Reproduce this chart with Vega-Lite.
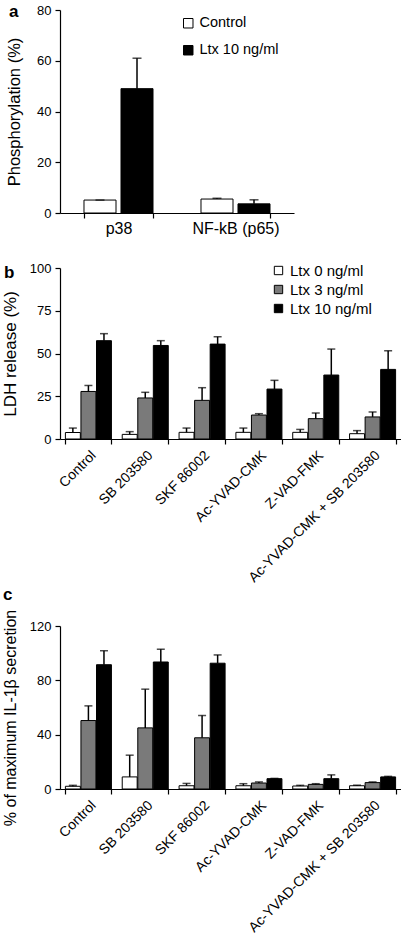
{
  "$schema": "https://vega.github.io/schema/vega-lite/v6.json",
  "padding": {"left": 1, "top": 2, "right": 0, "bottom": 0},
  "config": {
    "font": "Liberation Sans",
    "view": {"stroke": null},
    "axis": {"domainColor": "black", "tickColor": "black", "labelColor": "black", "titleColor": "black", "grid": false, "labelFontSize": 13, "titleFontSize": 16.5, "titleFontWeight": "normal", "tickSize": 5, "labelPadding": 4, "domainWidth": 1.2, "tickWidth": 1.2},
    "legend": {"labelFontSize": 15, "labelColor": "black", "symbolType": "square", "symbolStrokeColor": "black", "symbolStrokeWidth": 1, "labelOffset": 4},
    "title": {"fontSize": 17, "fontWeight": "bold", "color": "black", "anchor": "start", "frame": "group"}
  },
  "datasets": {
    "a": [
      {"cat": "p38", "grp": "Control", "value": 5.1, "upper": 5.1},
      {"cat": "p38", "grp": "Ltx 10 ng/ml", "value": 49, "upper": 61},
      {"cat": "NF-kB (p65)", "grp": "Control", "value": 5.5, "upper": 5.8},
      {"cat": "NF-kB (p65)", "grp": "Ltx 10 ng/ml", "value": 3.6, "upper": 5.2}
    ],
    "b": [
      {"cat": "Control", "grp": "Ltx 0 ng/ml", "value": 3.8, "upper": 6.4},
      {"cat": "Control", "grp": "Ltx 3 ng/ml", "value": 27.8, "upper": 31.3},
      {"cat": "Control", "grp": "Ltx 10 ng/ml", "value": 57.5, "upper": 61.6},
      {"cat": "SB 203580", "grp": "Ltx 0 ng/ml", "value": 2.7, "upper": 4.3},
      {"cat": "SB 203580", "grp": "Ltx 3 ng/ml", "value": 24, "upper": 27.3},
      {"cat": "SB 203580", "grp": "Ltx 10 ng/ml", "value": 54.7, "upper": 57.5},
      {"cat": "SKF 86002", "grp": "Ltx 0 ng/ml", "value": 3.9, "upper": 6.4},
      {"cat": "SKF 86002", "grp": "Ltx 3 ng/ml", "value": 22.6, "upper": 30},
      {"cat": "SKF 86002", "grp": "Ltx 10 ng/ml", "value": 55.5, "upper": 59.8},
      {"cat": "Ac-YVAD-CMK", "grp": "Ltx 0 ng/ml", "value": 3.9, "upper": 6.4},
      {"cat": "Ac-YVAD-CMK", "grp": "Ltx 3 ng/ml", "value": 14, "upper": 14.8},
      {"cat": "Ac-YVAD-CMK", "grp": "Ltx 10 ng/ml", "value": 29.2, "upper": 34.3},
      {"cat": "Z-VAD-FMK", "grp": "Ltx 0 ng/ml", "value": 3.9, "upper": 5.6},
      {"cat": "Z-VAD-FMK", "grp": "Ltx 3 ng/ml", "value": 11.9, "upper": 15.2},
      {"cat": "Z-VAD-FMK", "grp": "Ltx 10 ng/ml", "value": 37.4, "upper": 52.6},
      {"cat": "Ac-YVAD-CMK + SB 203580", "grp": "Ltx 0 ng/ml", "value": 3.1, "upper": 4.9},
      {"cat": "Ac-YVAD-CMK + SB 203580", "grp": "Ltx 3 ng/ml", "value": 12.9, "upper": 15.8},
      {"cat": "Ac-YVAD-CMK + SB 203580", "grp": "Ltx 10 ng/ml", "value": 40.7, "upper": 51.6}
    ],
    "c": [
      {"cat": "Control", "grp": "Ltx 0 ng/ml", "value": 2, "upper": 2.7},
      {"cat": "Control", "grp": "Ltx 3 ng/ml", "value": 50.4, "upper": 61.2},
      {"cat": "Control", "grp": "Ltx 10 ng/ml", "value": 91.5, "upper": 101.8},
      {"cat": "SB 203580", "grp": "Ltx 0 ng/ml", "value": 8.9, "upper": 24.9},
      {"cat": "SB 203580", "grp": "Ltx 3 ng/ml", "value": 45, "upper": 73.5},
      {"cat": "SB 203580", "grp": "Ltx 10 ng/ml", "value": 93.5, "upper": 102.9},
      {"cat": "SKF 86002", "grp": "Ltx 0 ng/ml", "value": 2.4, "upper": 4.1},
      {"cat": "SKF 86002", "grp": "Ltx 3 ng/ml", "value": 37.7, "upper": 54.1},
      {"cat": "SKF 86002", "grp": "Ltx 10 ng/ml", "value": 92.6, "upper": 98.7},
      {"cat": "Ac-YVAD-CMK", "grp": "Ltx 0 ng/ml", "value": 2.4, "upper": 3.9},
      {"cat": "Ac-YVAD-CMK", "grp": "Ltx 3 ng/ml", "value": 4.4, "upper": 5.2},
      {"cat": "Ac-YVAD-CMK", "grp": "Ltx 10 ng/ml", "value": 7.6, "upper": 7.8},
      {"cat": "Z-VAD-FMK", "grp": "Ltx 0 ng/ml", "value": 2.2, "upper": 2.7},
      {"cat": "Z-VAD-FMK", "grp": "Ltx 3 ng/ml", "value": 3.4, "upper": 3.9},
      {"cat": "Z-VAD-FMK", "grp": "Ltx 10 ng/ml", "value": 7.6, "upper": 10.4},
      {"cat": "Ac-YVAD-CMK + SB 203580", "grp": "Ltx 0 ng/ml", "value": 2.4, "upper": 2.8},
      {"cat": "Ac-YVAD-CMK + SB 203580", "grp": "Ltx 3 ng/ml", "value": 4.7, "upper": 5.2},
      {"cat": "Ac-YVAD-CMK + SB 203580", "grp": "Ltx 10 ng/ml", "value": 8.9, "upper": 9.3}
    ]
  },
  "bounds": "flush",
  "spacing": 55,
  "vconcat": [
    {
      "width": 234,
      "height": 203,
      "title": {"text": "a", "dx": -51, "offset": -16.5},
      "data": {"name": "a"},
      "encoding": {
        "x": {"field": "cat", "type": "nominal", "sort": null, "scale": {"paddingInner": 0.41, "paddingOuter": 0.205}, "axis": {"title": null, "labelAngle": 0, "tickBand": "extent", "labelPadding": 2, "labelFontSize": 16}},
        "xOffset": {"field": "grp", "type": "nominal", "sort": null, "scale": {"paddingInner": 0.135}}
      },
      "layer": [
        {
          "mark": {"type": "bar", "stroke": "black", "strokeWidth": 1},
          "encoding": {
            "y": {"field": "value", "type": "quantitative", "scale": {"domain": [0, 80]}, "axis": {"values": [0, 20, 40, 60, 80], "title": "Phosphorylation (%)", "titlePadding": 14}},
            "fill": {"field": "grp", "type": "nominal", "sort": null, "scale": {"domain": ["Control", "Ltx 10 ng/ml"], "range": ["white", "black"]}, "legend": {"title": null, "orient": "none", "legendX": 121, "legendY": 6, "symbolSize": 90, "rowPadding": 12, "labelFontSize": 14.5}}
          }
        },
        {
          "mark": {"type": "rule", "color": "black", "strokeWidth": 1.5},
          "encoding": {"y": {"field": "value", "type": "quantitative"}, "y2": {"field": "upper"}}
        },
        {
          "mark": {"type": "tick", "color": "black", "thickness": 1.5, "size": 9},
          "encoding": {"y": {"field": "upper", "type": "quantitative"}}
        }
      ]
    },
    {
      "bounds": "flush",
      "spacing": 187,
      "vconcat": [
        {
          "width": 341,
          "height": 171,
          "title": {"text": "b", "dx": -56, "offset": -20},
          "data": {"name": "b"},
          "encoding": {
            "x": {"field": "cat", "type": "nominal", "sort": null, "scale": {"paddingInner": 0.19, "paddingOuter": 0.095}, "axis": {"title": null, "labelAngle": -45, "tickBand": "extent", "labelFontSize": 14}},
            "xOffset": {"field": "grp", "type": "nominal", "sort": null, "scale": {"paddingInner": 0.04}}
          },
          "layer": [
            {
              "mark": {"type": "bar", "stroke": "black", "strokeWidth": 1},
              "encoding": {
                "y": {"field": "value", "type": "quantitative", "scale": {"domain": [0, 100]}, "axis": {"values": [0, 25, 50, 75, 100], "title": "LDH release (%)", "titlePadding": 10, "titleFontSize": 17}},
                "fill": {"field": "grp", "type": "nominal", "sort": null, "scale": {"domain": ["Ltx 0 ng/ml", "Ltx 3 ng/ml", "Ltx 10 ng/ml"], "range": ["white", "#7a7a7a", "black"]}, "legend": {"title": null, "orient": "none", "legendX": 211, "legendY": -5, "symbolSize": 70, "rowPadding": 3}}
              }
            },
            {
              "mark": {"type": "rule", "color": "black", "strokeWidth": 1.5},
              "encoding": {"y": {"field": "value", "type": "quantitative"}, "y2": {"field": "upper"}}
            },
            {
              "mark": {"type": "tick", "color": "black", "thickness": 1.5, "size": 8},
              "encoding": {"y": {"field": "upper", "type": "quantitative"}}
            }
          ]
        },
        {
          "width": 341,
          "height": 163,
          "title": {"text": "c", "dx": -57, "offset": 5},
          "data": {"name": "c"},
          "encoding": {
            "x": {"field": "cat", "type": "nominal", "sort": null, "scale": {"paddingInner": 0.19, "paddingOuter": 0.095}, "axis": {"title": null, "labelAngle": -45, "tickBand": "extent", "labelFontSize": 14}},
            "xOffset": {"field": "grp", "type": "nominal", "sort": null, "scale": {"paddingInner": 0.04}}
          },
          "layer": [
            {
              "mark": {"type": "bar", "stroke": "black", "strokeWidth": 1},
              "encoding": {
                "y": {"field": "value", "type": "quantitative", "scale": {"domain": [0, 120]}, "axis": {"values": [0, 40, 80, 120], "title": "% of maximum IL-1β secretion", "titlePadding": 11, "titleFontSize": 16, "titleY": 91.5}},
                "fill": {"field": "grp", "type": "nominal", "sort": null, "scale": {"domain": ["Ltx 0 ng/ml", "Ltx 3 ng/ml", "Ltx 10 ng/ml"], "range": ["white", "#7a7a7a", "black"]}, "legend": {"title": null, "orient": "none", "legendX": 208, "legendY": -10, "symbolSize": 70, "rowPadding": 5}}
              }
            },
            {
              "mark": {"type": "rule", "color": "black", "strokeWidth": 1.5},
              "encoding": {"y": {"field": "value", "type": "quantitative"}, "y2": {"field": "upper"}}
            },
            {
              "mark": {"type": "tick", "color": "black", "thickness": 1.5, "size": 8},
              "encoding": {"y": {"field": "upper", "type": "quantitative"}}
            }
          ]
        }
      ]
    }
  ],
  "resolve": {"scale": {"fill": "independent", "x": "independent", "y": "independent", "xOffset": "independent"}}
}
